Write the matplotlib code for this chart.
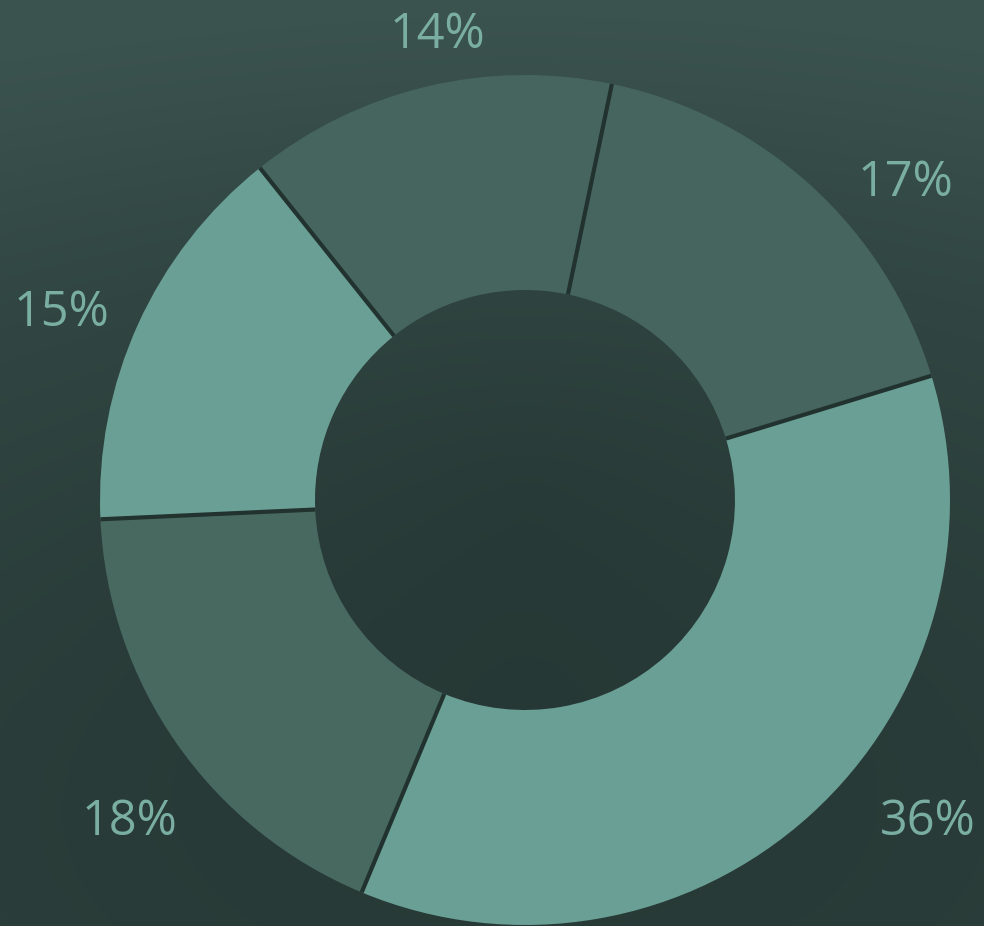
import numpy as np
import matplotlib.pyplot as plt
from matplotlib.colors import LinearSegmentedColormap

# Data (clockwise from the top boundary)
labels = ["17%", "36%", "18%", "15%", "14%"]
values = [17, 36, 18, 15, 14]

# Style
wedge_colors = ["#46655e", "#6a9f96", "#48695f", "#6a9f96", "#46655e"]
edge = "#22332f"
text_color = "#7aaea3"

# label anchor points in pixels (x from left, y from top)
label_pos = [(905, 183), (928, 822), (130, 822), (62, 313), (437, 35)]

W, H = 984, 926
fig = plt.figure(figsize=(W / 100, H / 100), dpi=100, facecolor="#2c3f3b")
ax = fig.add_axes([0, 0, 1, 1])

# chalkboard-like background: lighter at the top, darker towards the middle/bottom
yy, xx = np.mgrid[0:H, 0:W]
shade = 0.75 * (1 - yy / H) ** 2 + 0.25 * np.hypot(xx - 525, yy - 500) / 700
board = LinearSegmentedColormap.from_list("board", ["#243532", "#3b534f"])
ax.imshow(shade, cmap=board, extent=(0, W, 0, H), origin="upper",
          vmin=0, vmax=0.9, zorder=0, aspect="auto")

cx, cy, r_out, r_in = 525, H - 500, 425, 210

wedges, _ = ax.pie(values, colors=wedge_colors, startangle=78.2, counterclock=False,
                   center=(cx, cy), radius=r_out, frame=True,
                   wedgeprops=dict(width=r_out - r_in, linewidth=0, zorder=2))

# thin dark separators between the segments
for w in wedges:
    t = np.deg2rad(w.theta1)
    ax.plot([cx + r_in * np.cos(t), cx + r_out * np.cos(t)],
            [cy + r_in * np.sin(t), cy + r_out * np.sin(t)],
            color=edge, lw=3, solid_capstyle="butt", zorder=3)

for lab, (x, y) in zip(labels, label_pos):
    ax.text(x, H - y, lab, color=text_color, fontsize=35, family="Open Sans",
            ha="center", va="center", zorder=4)

ax.set_xlim(0, W)
ax.set_ylim(0, H)
ax.set_aspect("equal")
ax.axis("off")

fig.savefig("out.png", dpi=100)
